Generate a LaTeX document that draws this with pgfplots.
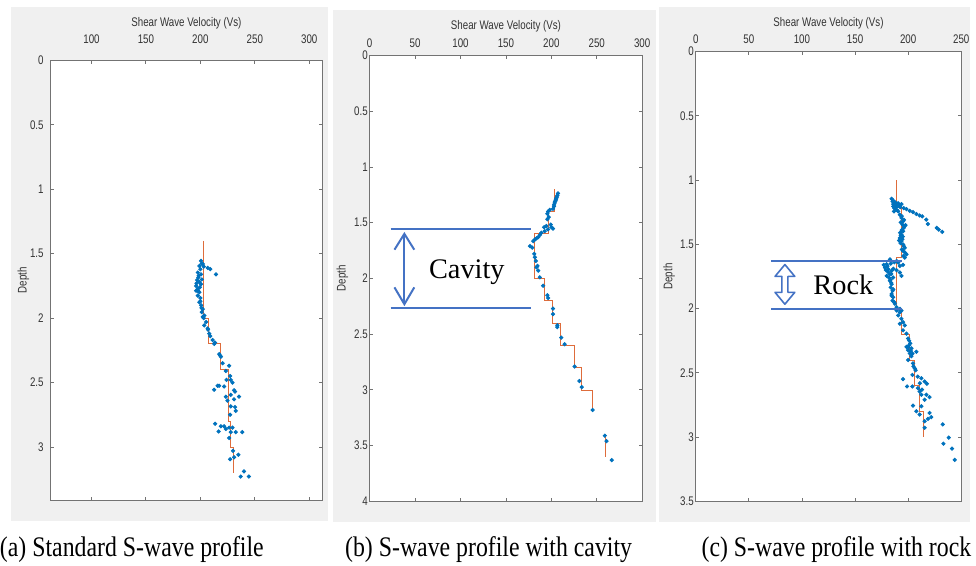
\documentclass[border=0pt]{standalone}
\usepackage{fontspec}
\setmainfont{Liberation Serif}
\newfontfamily\capfont{Liberation Serif}[FakeStretch=0.84]
\newfontfamily\axfont{Liberation Sans}[FakeStretch=0.78]
\usepackage{pgfplots}
\pgfplotsset{compat=1.18}

\definecolor{mblue}{RGB}{0,114,189}
\definecolor{morange}{RGB}{217,83,25}
\definecolor{figbg}{RGB}{240,240,240}
\definecolor{annblue}{RGB}{68,114,196}

\pgfplotsset{
  vsprof/.style={
    scale only axis,
    anchor=south west,
    y dir=reverse,
    axis background/.style={fill=white},
    axis line style={black!55, line width=0.45pt},
    every tick/.style={black!55, line width=0.45pt},
    tick align=inside,
    xticklabel pos=upper,
    xtick pos=both,
    ytick pos=both,
    major tick length=1.6pt,
    /pgf/number format/assume math mode=true,
    tick label style={font=\axfont\fontsize{6.3}{7}\selectfont, text=black!80},
    label style={font=\axfont\fontsize{6.3}{7}\selectfont, text=black!80},
    xlabel={Shear Wave Velocity (Vs)},
    ylabel={Depth},
    xlabel style={at={(axis description cs:0.5,1)}, anchor=center},
    ylabel style={at={(axis description cs:-0.1,0.5)}, anchor=center},
    xticklabel style={anchor=center},
  },
  steps/.style={morange, line width=0.4pt, opacity=0.85},
  pts/.style={only marks, mark=*, mark size=0.85pt, mblue},
}

\begin{document}
\begin{tikzpicture}
% page frame and figure backgrounds (pixel grid, y downwards)
\begin{scope}[x=0.5pt, y=-0.5pt, shift={(0pt,285.5pt)}]
  \path[use as bounding box, fill=white] (0,0) rectangle (976,571);
  \fill[figbg] (8,7) rectangle (328,526);
  \fill[figbg] (333,10) rectangle (659,527);
  \fill[figbg] (662,7) rectangle (976,527);
\end{scope}

% (a) standard profile
\begin{axis}[vsprof, at={(24pt,33pt)}, width=137pt, height=222pt,
    xmin=62.5, xmax=311.8, ymin=0, ymax=3.415,
    xtick={100,150,...,300}, ytick={0,0.5,...,3},
    xlabel style={yshift=19pt}, xticklabel style={yshift=10.5pt}]
  \addplot[steps] coordinates {
    (202.4,1.40) (202.4,2.0) (207.6,2.0) (207.6,2.2) (218.2,2.2) (218.2,2.4)
    (225.5,2.4) (225.5,2.8) (228,2.8) (228,3.0) (230.3,3.0) (230.3,3.2)
  };
  \addplot[pts] coordinates {
    (200.6,1.556) (201.3,1.577) (199.1,1.595) (203.1,1.60) (200,1.62) (206.7,1.61)
    (209.1,1.62) (214.3,1.66) (197.6,1.646) (200.6,1.66) (198.2,1.685) (197,1.705)
    (201.3,1.70) (199.1,1.72) (196.1,1.75) (200.6,1.736) (197.6,1.775) (196.1,1.787)
    (199.1,1.80) (197.6,1.825) (200,1.844) (199.1,1.877) (200.6,1.90) (202.2,1.93)
    (201.3,1.954) (203.6,1.98) (202.2,1.99) (205.2,2.03) (203.6,2.056) (206.7,2.08)
    (208.2,2.12) (211.3,2.17) (212.7,2.20) (218.2,2.29)
    (202.2,1.58) (198.5,1.67) (196.5,1.73) (199.5,1.76) (198,1.79) (200,1.87)
    (201,1.92) (203,2.00) (207,2.09) (209,2.14) (213.5,2.19)
    (217.3,2.28) (218.8,2.30) (220.4,2.35) (226.4,2.37) (223.4,2.41) (227.3,2.45)
    (227.9,2.48) (224,2.48) (229.5,2.50) (215.8,2.525) (217.3,2.525) (221.8,2.53)
    (212.7,2.556) (230.9,2.56) (231.8,2.57) (227.9,2.595) (235.5,2.61) (223.4,2.61)
    (224.9,2.64) (230.9,2.63) (227.9,2.685) (231.8,2.69) (232.5,2.72) (227.3,2.75)
    (213.6,2.82) (218.8,2.84) (221.8,2.84) (223.4,2.86) (226.4,2.85) (229.5,2.85)
    (216.7,2.88) (227.9,2.885) (232.5,2.885) (238.5,2.885) (226.4,2.93)
    (230,3.03) (234.9,3.06) (230.9,3.08) (227.3,3.095)
    (240,3.19) (237,3.23) (244.5,3.23)
  };
\end{axis}

% (b) profile with cavity
\begin{axis}[vsprof, at={(185pt,32.5pt)}, width=137.5pt, height=225pt,
    xmin=0, xmax=300, ymin=0, ymax=4,
    xtick={0,50,...,300}, ytick={0,0.5,...,4},
    xlabel style={yshift=14.5pt}, xticklabel style={yshift=6pt},
    yticklabel style={inner xsep=0.8pt}]
  \addplot[steps] coordinates {
    (203.6,1.2) (203.6,1.4) (197,1.4) (197,1.6) (181.5,1.6) (181.5,2.0)
    (192.5,2.0) (192.5,2.2) (201,2.2) (201,2.4) (209.8,2.4) (209.8,2.6)
    (225.5,2.6) (225.5,2.8) (233,2.8) (233,3.0) (245,3.0) (245,3.2)
  };
  \addplot[steps] coordinates {(259.3,3.4) (259.3,3.6)};
  \addplot[pts] coordinates {
    (207.3,1.236) (206.5,1.256) (206,1.27) (205.4,1.28) (205,1.29) (204.7,1.304)
    (204,1.31) (203.6,1.324) (203,1.34) (202.9,1.354) (201.8,1.375) (198.2,1.384)
    (196.4,1.40) (195.6,1.42) (197.1,1.45) (195.6,1.47) (199.3,1.517) (194.5,1.53)
    (192,1.54) (192.7,1.576) (196.4,1.56) (201.8,1.553) (200,1.54) (189,1.59)
    (187.3,1.61) (185.5,1.63) (183.6,1.64) (181.8,1.65) (180,1.665) (176.4,1.71)
    (178.9,1.724) (181.1,1.78) (181.8,1.81) (182.9,1.843) (184.7,1.887) (183.6,1.90)
    (185.5,1.93) (187.3,1.99) (190.9,2.065) (195.6,2.15) (196.4,2.175) (201.8,2.27)
    (201.8,2.32) (206.5,2.42) (206.5,2.436) (210.9,2.53) (214.5,2.59) (225.5,2.79)
    (230.9,2.92) (233.4,2.975) (245.5,3.18) (258.9,3.41) (260.7,3.46) (266.5,3.63)
  };
\end{axis}

% (c) profile with rock
\begin{axis}[vsprof, at={(349.5pt,32.5pt)}, width=134pt, height=227pt,
    xmin=0, xmax=250, ymin=0, ymax=3.5,
    xtick={0,50,...,250}, ytick={0,0.5,...,3.5},
    xlabel style={yshift=14.5pt}, xticklabel style={yshift=6pt},
    yticklabel style={inner xsep=0.8pt}]
  \addplot[steps] coordinates {
    (189.1,1.0) (189.1,1.2) (193.7,1.2) (193.7,1.6) (189.1,1.6) (189.1,2.0)
    (193.7,2.0) (193.7,2.2) (201.5,2.2) (201.5,2.4) (206.2,2.4) (206.2,2.6)
    (210.8,2.6) (210.8,2.8) (214.6,2.8) (214.6,3.0)
  };
  \addplot[pts] coordinates {
    (184.4,1.146) (185.3,1.167) (185.9,1.187) (187.5,1.198) (188.4,1.213) (190.6,1.18)
    (192.2,1.193) (193.7,1.187) (189.1,1.231) (186.6,1.244) (190.6,1.244)
    (186,1.16) (188,1.175) (191,1.20) (187,1.22) (189.5,1.19) (192.5,1.21) (186,1.205)
    (195.9,1.218) (198.4,1.226) (201.5,1.239) (204.6,1.249) (207.7,1.264) (210.8,1.275)
    (213.3,1.282) (217.1,1.308) (218.6,1.342) (226.9,1.372) (228.8,1.385) (232,1.403)
    (192.2,1.27) (193.7,1.295) (195.2,1.321) (194.7,1.347) (195.9,1.372) (195.2,1.398)
    (193.7,1.424) (192.2,1.45) (193.7,1.475) (195.2,1.501) (196.8,1.527) (195.2,1.552)
    (198.4,1.578) (196.8,1.604)
    (194,1.28) (196,1.31) (193,1.33) (196.5,1.36) (194,1.39) (192.5,1.41) (195,1.44)
    (194.5,1.46) (192.8,1.49) (196,1.515) (194,1.54) (197,1.565) (195.5,1.59)
    (193,1.43) (191.5,1.47) (197.5,1.35)
    (182.8,1.617) (189.1,1.629) (179.8,1.655) (178.2,1.681) (181.3,1.694) (184.4,1.706)
    (189.1,1.701) (192.2,1.719) (182.8,1.732) (179.8,1.745) (185.9,1.758) (192.2,1.668)
    (190.6,1.642) (195.2,1.66) (193.7,1.745)
    (177,1.66) (180.5,1.67) (183.5,1.65) (186,1.69) (181,1.715) (184,1.73) (187,1.64)
    (179,1.70) (182,1.76) (183.5,1.775)
    (182.8,1.784) (184.4,1.81) (183.5,1.835) (185.3,1.861) (184.4,1.887) (185.9,1.912)
    (185.3,1.938) (187.5,1.963) (189.1,1.989) (192.2,2.002) (193.7,2.015)
    (184,1.80) (186,1.85) (184.5,1.90) (187,1.95)
    (189.1,2.015) (192.2,2.028) (190.6,2.053) (193.7,2.079) (195.2,2.105) (192.2,2.118)
    (196.8,2.131) (195.2,2.169) (198.4,2.195) (199.9,2.233) (200.8,2.285) (198.4,2.298)
    (199.9,2.323) (203.1,2.31) (201.5,2.349) (207.7,2.336) (199.9,2.40) (204.6,2.426)
    (206.2,2.465) (204,2.516) (195.2,2.549) (212.4,2.542) (215.5,2.567) (217.6,2.585)
    (198.9,2.606) (204,2.606) (209.2,2.619) (210.8,2.645) (212.4,2.67) (217.1,2.67)
    (220.1,2.688) (215.5,2.709) (204.6,2.755) (212.4,2.76) (207.7,2.799) (220.1,2.812)
    (210.8,2.824) (221.7,2.845) (218.6,2.858) (215.5,2.876) (215.5,2.927) (232.5,2.901)
    (238.2,3.004) (233.2,3.051) (241.3,3.089) (243.8,3.177)
    (201,2.25) (202,2.27) (200,2.30) (202.5,2.33) (204,2.35) (203,2.37) (205,2.45)
    (207,2.48) (209,2.53) (211,2.58) (213,2.63)
  };
\end{axis}

% annotations and captions (pixel grid, y downwards)
\begin{scope}[x=0.5pt, y=-0.5pt, shift={(0pt,285.5pt)}]
  \draw[annblue, line width=1pt] (391,231) -- (533,231);
  \draw[annblue, line width=1pt] (391,311) -- (533,311);
  \draw[annblue, line width=1pt] (405,237) -- (405,306);
  \draw[annblue, line width=1pt] (395,252) -- (405,236) -- (415,252);
  \draw[annblue, line width=1pt] (395,290) -- (405,307) -- (415,290);
  \node[anchor=base, inner sep=0pt, font=\fontsize{14.3}{16}\selectfont] at (468,281) {Cavity};

  \draw[annblue, line width=1pt] (775,263) -- (907,263);
  \draw[annblue, line width=1pt] (775,312) -- (907,312);
  \draw[annblue, line width=0.8pt, line join=round]
    (789,267) -- (799,279) -- (792,279) -- (792,295) -- (799,295) -- (789,307)
    -- (779,295) -- (786,295) -- (786,279) -- (779,279) -- cycle;
  \node[anchor=base, inner sep=0pt, font=\fontsize{14.3}{16}\selectfont] at (848,297) {Rock};

  \node[anchor=base, inner sep=0pt, font=\capfont\fontsize{14.3}{16}\selectfont] at (130,562) {(a) Standard S-wave profile};
  \node[anchor=base, inner sep=0pt, font=\capfont\fontsize{14.3}{16}\selectfont] at (490,562) {(b) S-wave profile with cavity};
  \node[anchor=base, inner sep=0pt, font=\capfont\fontsize{14.3}{16}\selectfont] at (841,562) {(c) S-wave profile with rock};
\end{scope}
\end{tikzpicture}
\end{document}
